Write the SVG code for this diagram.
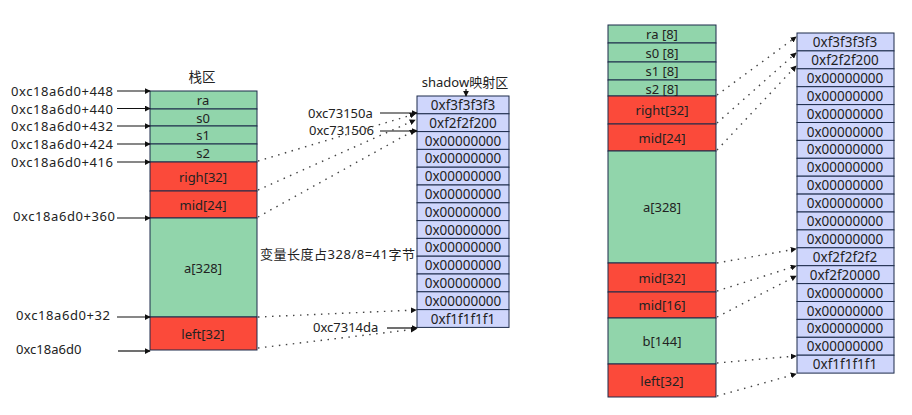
<svg xmlns="http://www.w3.org/2000/svg" width="912" height="415" viewBox="0 0 912 415">
<style>
text{font-family:"Noto Sans","Noto Sans CJK SC",sans-serif;font-size:13px;fill:#222;}
.c{text-anchor:middle;dominant-baseline:central;}
.l{dominant-baseline:central;}
.g{fill:#91d5ab;stroke:#1c2b4a;stroke-width:1;}
.r{fill:#fb4a3a;stroke:#1c2b4a;stroke-width:1;}
.b{fill:#cfd6fc;stroke:#1c2b4a;stroke-width:1;}
.sh{font-size:13.5px;}
.ar{stroke:#111;stroke-width:1.2;fill:none;marker-end:url(#ah);}
.dt{stroke:#444;stroke-width:1.4;fill:none;stroke-dasharray:1.5 5.5;marker-end:url(#ah);}
</style>
<defs>
<marker id="ah" viewBox="0 0 8 8" refX="7" refY="4" markerWidth="6" markerHeight="6" markerUnits="userSpaceOnUse" orient="auto">
<path d="M0,0 L8,4 L0,8 z" fill="#111"/>
</marker>
</defs>
<rect width="912" height="415" fill="#fff"/>

<g id="stack-left">
<text class="c" x="202" y="77" style="font-size:13.5px">栈区</text>
<rect class="g" x="150" y="91" width="107" height="18"/><text class="c" x="203" y="100">ra</text>
<rect class="g" x="150" y="109" width="107" height="17"/><text class="c" x="203" y="117.5">s0</text>
<rect class="g" x="150" y="126" width="107" height="18"/><text class="c" x="203" y="135">s1</text>
<rect class="g" x="150" y="144" width="107" height="18"/><text class="c" x="203" y="153">s2</text>
<rect class="r" x="150" y="162" width="107" height="29"/><text class="c" x="203" y="176.5">righ[32]</text>
<rect class="r" x="150" y="191" width="107" height="27"/><text class="c" x="203" y="204.5">mid[24]</text>
<rect class="g" x="150" y="218" width="107" height="99"/><text class="c" x="203" y="268">a[328]</text>
<rect class="r" x="150" y="317" width="107" height="33"/><text class="c" x="203" y="333.5">left[32]</text>
</g>

<g id="addr-labels">
<text class="l" x="11" y="91" textLength="102">0xc18a6d0+448</text>
<text class="l" x="11" y="108.5" textLength="102">0xc18a6d0+440</text>
<text class="l" x="11" y="126" textLength="102">0xc18a6d0+432</text>
<text class="l" x="11" y="144" textLength="102">0xc18a6d0+424</text>
<text class="l" x="11" y="162" textLength="102">0xc18a6d0+416</text>
<text class="l" x="13" y="216" textLength="102">0xc18a6d0+360</text>
<text class="l" x="16" y="315" textLength="94">0xc18a6d0+32</text>
<text class="l" x="16" y="349">0xc18a6d0</text>
</g>

<g id="shadow-left">
<text class="c" x="465" y="82">shadow映射区</text>
<rect class="b" x="417" y="96" width="92" height="17.8"/><text class="c sh" x="463" y="105">0xf3f3f3f3</text>
<rect class="b" x="417" y="113.8" width="92" height="17.8"/><text class="c sh" x="463" y="122.7">0xf2f2f200</text>
<rect class="b" x="417" y="131.6" width="92" height="17.8"/><text class="c sh" x="463" y="140.5">0x00000000</text>
<rect class="b" x="417" y="149.4" width="92" height="17.8"/><text class="c sh" x="463" y="158.3">0x00000000</text>
<rect class="b" x="417" y="167.2" width="92" height="17.8"/><text class="c sh" x="463" y="176.1">0x00000000</text>
<rect class="b" x="417" y="185" width="92" height="17.8"/><text class="c sh" x="463" y="193.9">0x00000000</text>
<rect class="b" x="417" y="202.8" width="92" height="17.8"/><text class="c sh" x="463" y="211.7">0x00000000</text>
<rect class="b" x="417" y="220.6" width="92" height="17.8"/><text class="c sh" x="463" y="229.5">0x00000000</text>
<rect class="b" x="417" y="238.4" width="92" height="17.8"/><text class="c sh" x="463" y="247.3">0x00000000</text>
<rect class="b" x="417" y="256.2" width="92" height="17.8"/><text class="c sh" x="463" y="265.1">0x00000000</text>
<rect class="b" x="417" y="274" width="92" height="17.8"/><text class="c sh" x="463" y="282.9">0x00000000</text>
<rect class="b" x="417" y="291.8" width="92" height="17.8"/><text class="c sh" x="463" y="300.7">0x00000000</text>
<rect class="b" x="417" y="309.6" width="92" height="17.8"/><text class="c sh" x="463" y="318.5">0xf1f1f1f1</text>
</g>

<g id="notes">
<text class="l" x="260" y="254" textLength="155">变量长度占328/8=41字节</text>
<text class="l" x="308" y="113">0xc73150a</text>
<text class="l" x="309" y="130">0xc731506</text>
<text class="l" x="313" y="327">0xc7314da</text>
</g>

<g id="stack-right">
<rect class="g" x="608" y="25" width="108" height="18"/><text class="c" x="662" y="34">ra [8]</text>
<rect class="g" x="608" y="43" width="108" height="19"/><text class="c" x="662" y="52.5">s0 [8]</text>
<rect class="g" x="608" y="62" width="108" height="18"/><text class="c" x="662" y="71">s1 [8]</text>
<rect class="g" x="608" y="80" width="108" height="16"/><text class="c" x="662" y="88.5">s2 [8]</text>
<rect class="r" x="608" y="96" width="108" height="28"/><text class="c" x="662" y="110">right[32]</text>
<rect class="r" x="608" y="124" width="108" height="27"/><text class="c" x="662" y="137.5">mid[24]</text>
<rect class="g" x="608" y="151" width="108" height="112"/><text class="c" x="662" y="207">a[328]</text>
<rect class="r" x="608" y="263" width="108" height="29"/><text class="c" x="662" y="277.5">mid[32]</text>
<rect class="r" x="608" y="292" width="108" height="26"/><text class="c" x="662" y="305">mid[16]</text>
<rect class="g" x="608" y="318" width="108" height="46"/><text class="c" x="662" y="341">b[144]</text>
<rect class="r" x="608" y="364" width="108" height="33"/><text class="c" x="662" y="380.5">left[32]</text>
</g>

<g id="shadow-right">
<rect class="b" x="797" y="33" width="97" height="17.9"/><text class="c sh" x="845" y="42">0xf3f3f3f3</text>
<rect class="b" x="797" y="50.9" width="97" height="17.9"/><text class="c sh" x="845" y="59.9">0xf2f2f200</text>
<rect class="b" x="797" y="68.8" width="97" height="17.9"/><text class="c sh" x="845" y="77.8">0x00000000</text>
<rect class="b" x="797" y="86.7" width="97" height="17.9"/><text class="c sh" x="845" y="95.7">0x00000000</text>
<rect class="b" x="797" y="104.6" width="97" height="17.9"/><text class="c sh" x="845" y="113.6">0x00000000</text>
<rect class="b" x="797" y="122.5" width="97" height="17.9"/><text class="c sh" x="845" y="131.5">0x00000000</text>
<rect class="b" x="797" y="140.4" width="97" height="17.9"/><text class="c sh" x="845" y="149.4">0x00000000</text>
<rect class="b" x="797" y="158.3" width="97" height="17.9"/><text class="c sh" x="845" y="167.3">0x00000000</text>
<rect class="b" x="797" y="176.2" width="97" height="17.9"/><text class="c sh" x="845" y="185.2">0x00000000</text>
<rect class="b" x="797" y="194.1" width="97" height="17.9"/><text class="c sh" x="845" y="203.1">0x00000000</text>
<rect class="b" x="797" y="212" width="97" height="17.9"/><text class="c sh" x="845" y="221">0x00000000</text>
<rect class="b" x="797" y="229.9" width="97" height="17.9"/><text class="c sh" x="845" y="238.9">0x00000000</text>
<rect class="b" x="797" y="247.8" width="97" height="17.9"/><text class="c sh" x="845" y="256.8">0xf2f2f2f2</text>
<rect class="b" x="797" y="265.7" width="97" height="17.9"/><text class="c sh" x="845" y="274.7">0xf2f20000</text>
<rect class="b" x="797" y="283.6" width="97" height="17.9"/><text class="c sh" x="845" y="292.6">0x00000000</text>
<rect class="b" x="797" y="301.5" width="97" height="17.9"/><text class="c sh" x="845" y="310.5">0x00000000</text>
<rect class="b" x="797" y="319.4" width="97" height="17.9"/><text class="c sh" x="845" y="328.4">0x00000000</text>
<rect class="b" x="797" y="337.3" width="97" height="17.9"/><text class="c sh" x="845" y="346.3">0x00000000</text>
<rect class="b" x="797" y="355.2" width="97" height="17.9"/><text class="c sh" x="845" y="364.2">0xf1f1f1f1</text>
</g>

<g id="connectors">
<line class="ar" x1="117" y1="91" x2="150" y2="91"/>
<line class="ar" x1="117" y1="108.5" x2="150" y2="108.5"/>
<line class="ar" x1="117" y1="126" x2="150" y2="126"/>
<line class="ar" x1="117" y1="144" x2="150" y2="144"/>
<line class="ar" x1="117" y1="162" x2="150" y2="162"/>
<line class="ar" x1="117" y1="218" x2="150" y2="218"/>
<line class="ar" x1="117" y1="317" x2="150" y2="317"/>
<line class="ar" x1="118" y1="351" x2="150" y2="351"/>
<line class="ar" x1="380" y1="113" x2="417" y2="113"/>
<line class="ar" x1="380" y1="131" x2="417" y2="131"/>
<line class="ar" x1="387" y1="328" x2="417" y2="328"/>
<line class="ar" x1="466" y1="89" x2="466" y2="96"/>
<line class="dt" x1="258" y1="161" x2="415" y2="114"/>
<line class="dt" x1="258" y1="190" x2="415" y2="120"/>
<line class="dt" x1="258" y1="217" x2="415" y2="130"/>
<line class="dt" x1="258" y1="317" x2="416" y2="310"/>
<line class="dt" x1="258" y1="348" x2="416" y2="329"/>
<line class="dt" x1="717" y1="95" x2="796" y2="37"/>
<line class="dt" x1="717" y1="123" x2="796" y2="53"/>
<line class="dt" x1="717" y1="150" x2="796" y2="66"/>
<line class="dt" x1="717" y1="263" x2="796" y2="249"/>
<line class="dt" x1="717" y1="291" x2="796" y2="266"/>
<line class="dt" x1="717" y1="317" x2="796" y2="276"/>
<line class="dt" x1="717" y1="363" x2="796" y2="356"/>
<line class="dt" x1="717" y1="396" x2="796" y2="374"/>
</g>
</svg>
